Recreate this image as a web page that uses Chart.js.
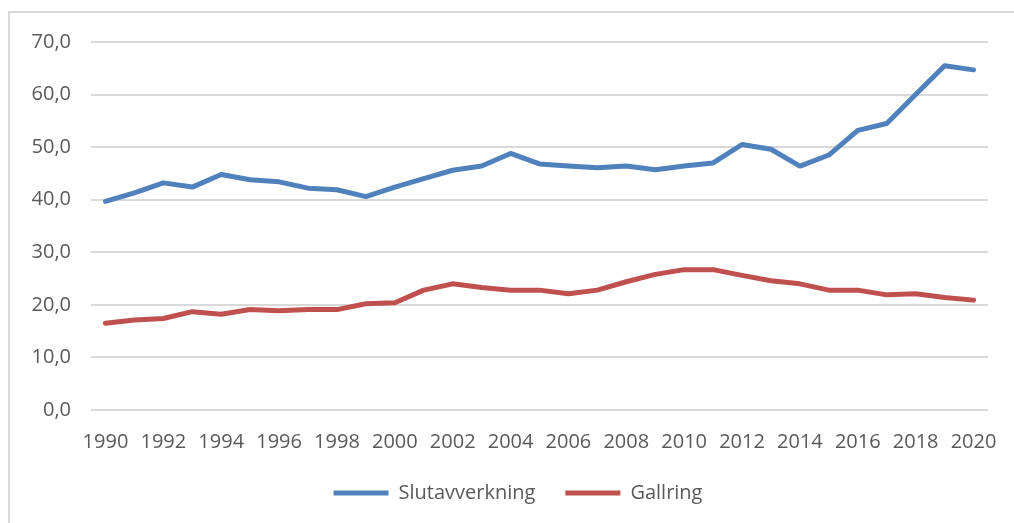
<!DOCTYPE html>
<html>
<head>
<meta charset="utf-8">
<script src="https://cdn.jsdelivr.net/npm/chart.js@4/dist/chart.umd.min.js"></script>
<style>
  html, body { margin: 0; padding: 0; background: #ffffff; }
  #wrap { position: relative; width: 1014px; height: 523px; overflow: hidden; }
  #frame { position: absolute; left: 8px; top: 11px; width: 1020px; height: 530px;
           border-top: 2px solid #d9d9d9; border-left: 2px solid #d9d9d9; box-sizing: border-box; }
  canvas { position: absolute; left: 0; top: 0; }
</style>
</head>
<body>
<div id="wrap">
  <div id="frame"></div>
  <canvas id="c" width="1014" height="523"></canvas>
</div>
<script>
const years = ["1990","1991","1992","1993","1994","1995","1996","1997","1998","1999",
               "2000","2001","2002","2003","2004","2005","2006","2007","2008","2009",
               "2010","2011","2012","2013","2014","2015","2016","2017","2018","2019","2020"];
const slutavverkning = [39.7,41.3,43.2,42.4,44.8,43.8,43.4,42.2,41.9,40.6,
                        42.4,44.0,45.6,46.4,48.8,46.8,46.4,46.1,46.4,45.7,
                        46.4,47.0,50.5,49.6,46.4,48.5,53.2,54.5,60.0,65.5,64.7];
const gallring = [16.5,17.1,17.4,18.7,18.2,19.1,18.9,19.1,19.1,20.2,
                  20.4,22.8,24.0,23.3,22.8,22.8,22.1,22.8,24.4,25.8,
                  26.7,26.7,25.6,24.6,24.0,22.8,22.8,21.9,22.1,21.4,20.9];
const seriesNames = ["Slutavverkning", "Gallring"];

const FONT = "'Open Sans', 'Noto Sans', sans-serif";
const TXT = "#595959";

const legendShift = {
  id: 'legendShift',
  afterLayout(chart) {
    if (chart.legend) { chart.legend.left += 24; chart.legend.right += 24; }
  }
};

new Chart(document.getElementById('c'), {
  type: 'line',
  data: {
    labels: years,
    datasets: [
      { label: seriesNames[0], data: slutavverkning, borderColor: '#4f81bd', backgroundColor: '#4f81bd',
        borderWidth: 5, pointRadius: 0, tension: 0, borderCapStyle: 'round', borderJoinStyle: 'round' },
      { label: seriesNames[1], data: gallring, borderColor: '#c0504d', backgroundColor: '#c0504d',
        borderWidth: 5, pointRadius: 0, tension: 0, borderCapStyle: 'round', borderJoinStyle: 'round' }
    ]
  },
  plugins: [legendShift],
  options: {
    responsive: false,
    devicePixelRatio: 1,
    animation: false,
    layout: { padding: { left: 0, right: 26, top: 42, bottom: 10 } },
    plugins: {
      tooltip: { enabled: false },
      legend: {
        position: 'bottom',
        labels: {
          usePointStyle: true,
          pointStyle: 'line',
          pointStyleWidth: 55,
          boxHeight: 20,
          padding: 30,
          color: TXT,
          font: { family: FONT, size: 20 }
        }
      }
    },
    scales: {
      x: {
        offset: true,
        grid: { display: false },
        border: { display: false },
        ticks: {
          autoSkip: false, maxRotation: 0, minRotation: 0, padding: 12,
          color: TXT, font: { family: FONT, size: 20 },
          callback: function(v, i) { return i % 2 === 0 ? this.getLabelForValue(v) : ''; }
        },
        afterFit: function(s) { s.height = 43; }
      },
      y: {
        min: 0, max: 70,
        grid: { color: '#d9d9d9', lineWidth: 2, drawTicks: false },
        border: { display: false },
        ticks: {
          stepSize: 10, padding: 20,
          color: TXT, font: { family: FONT, size: 20 },
          callback: function(v) { return v.toFixed(1).replace('.', ','); }
        },
        afterFit: function(s) { s.width = 91; }
      }
    }
  }
});
</script>
</body>
</html>
